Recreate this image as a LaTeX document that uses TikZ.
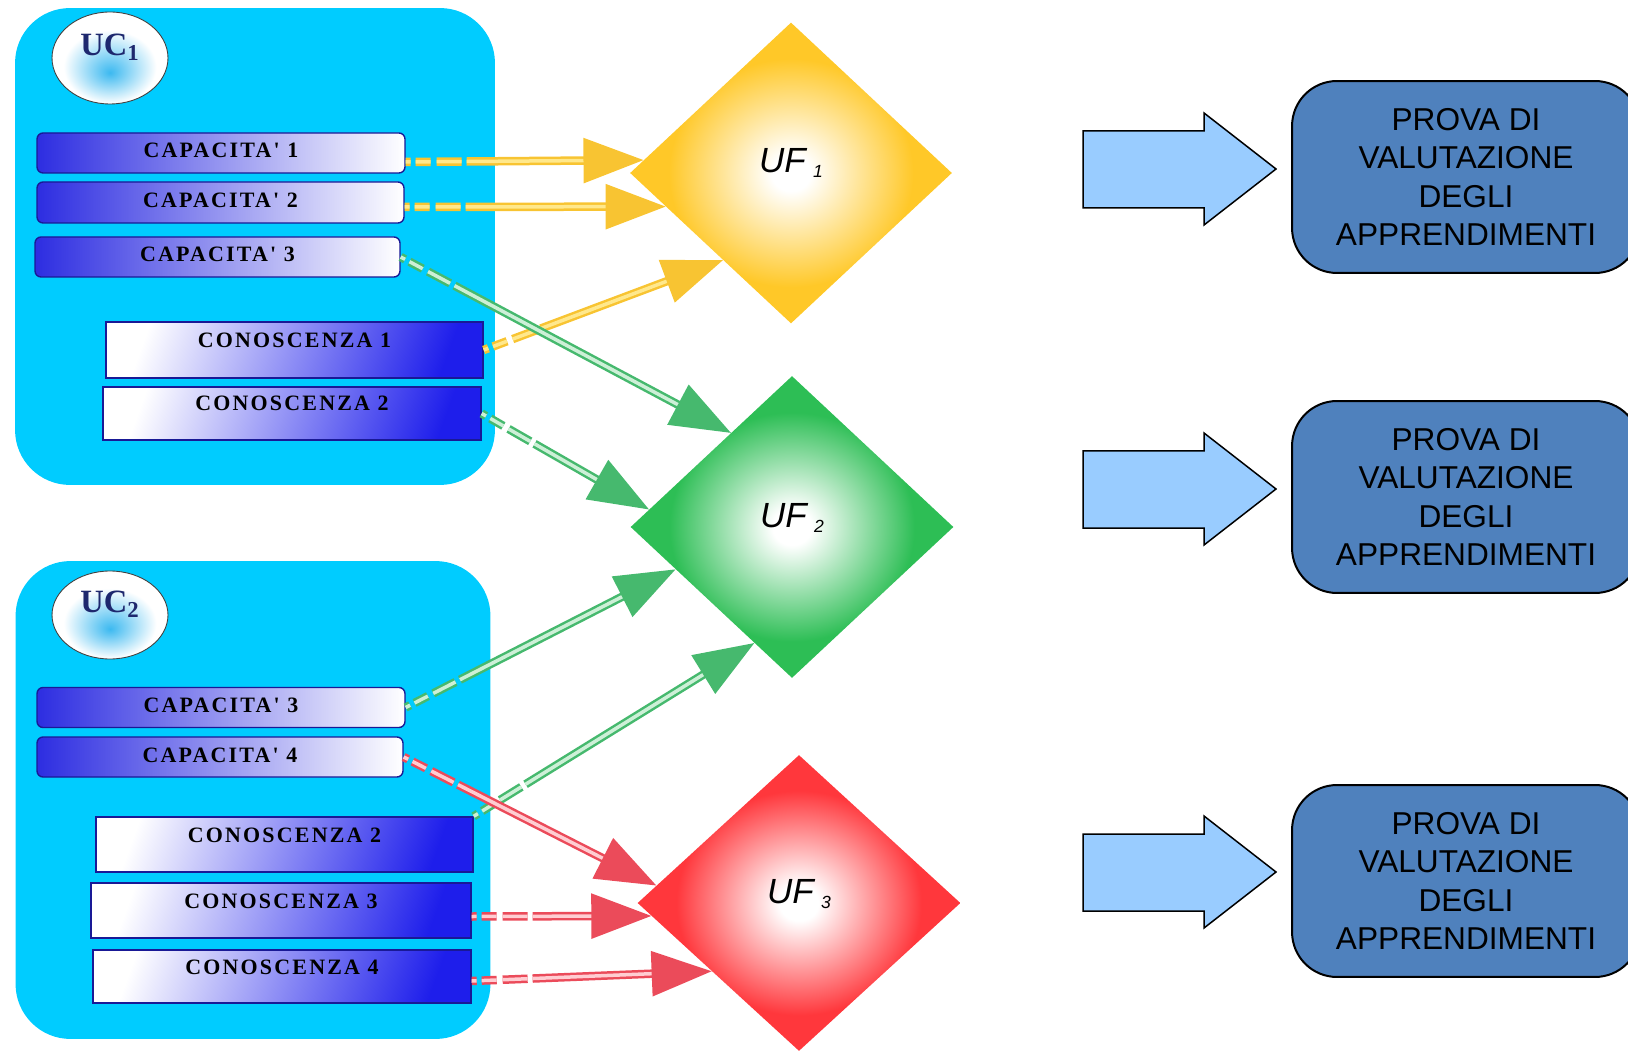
\documentclass[tikz,border=0pt]{standalone}
\usepackage{fontspec}
\setmainfont{Liberation Serif}
\setsansfont{Liberation Sans}
\newfontfamily\boxfont[LetterSpace=10]{Liberation Serif}
\usetikzlibrary{shapes.geometric,arrows.meta}

\definecolor{ucblue}{RGB}{0,204,255}
\definecolor{uccore}{RGB}{60,185,240}
\definecolor{ucnavy}{RGB}{30,40,110}
\definecolor{capblue}{RGB}{45,45,225}
\definecolor{capedge}{RGB}{25,25,150}
\definecolor{conblue}{RGB}{30,30,235}
\definecolor{ufyellow}{RGB}{255,200,40}
\definecolor{ufgreen}{RGB}{45,190,85}
\definecolor{ufred}{RGB}{255,55,60}
\definecolor{yline}{RGB}{248,196,50}
\definecolor{yfill}{RGB}{255,232,140}
\definecolor{gline}{RGB}{70,185,110}
\definecolor{gfill}{RGB}{205,240,215}
\definecolor{rline}{RGB}{235,75,90}
\definecolor{rfill}{RGB}{255,205,210}
\definecolor{pvblue}{RGB}{79,129,189}
\definecolor{arrowblue}{RGB}{153,204,255}

\pgfdeclareradialshading{ucshade}{\pgfpoint{0bp}{-8bp}}{color(0bp)=(uccore); color(20bp)=(white); color(50bp)=(white)}
\pgfdeclareradialshading{ufyshade}{\pgfpoint{0bp}{0bp}}{color(0bp)=(white); color(3bp)=(white); color(19bp)=(ufyellow); color(50bp)=(ufyellow)}
\pgfdeclareradialshading{ufgshade}{\pgfpoint{0bp}{0bp}}{color(0bp)=(white); color(3bp)=(white); color(19bp)=(ufgreen); color(50bp)=(ufgreen)}
\pgfdeclareradialshading{ufrshade}{\pgfpoint{0bp}{0bp}}{color(0bp)=(white); color(3bp)=(white); color(19bp)=(ufred); color(50bp)=(ufred)}

\begin{document}
\begin{tikzpicture}[x=0.02cm, y=-0.02cm,
    ucbox/.style={fill=ucblue, rounded corners=1.1cm, inner sep=0pt},
    ucname/.style={ellipse, draw=black!75, line width=0.5pt, shading=ucshade, minimum width=2.32cm, inner sep=0pt, text height=0.42cm, text depth=0.52cm, text=ucnavy, font=\fontsize{18.5}{18}\selectfont\bfseries},
    capbox/.style={draw=capedge, line width=0.8pt, left color=capblue, right color=white, rounded corners=0.12cm, inner sep=0pt, minimum width=7.34cm, text height=0.5cm, text depth=0.3cm, font=\boxfont\fontsize{12.5}{13}\selectfont\bfseries},
    conbox/.style={draw=capedge, line width=0.8pt, top color=white, bottom color=conblue, shading angle=70, inner sep=0pt, minimum width=7.56cm, text height=0.48cm, text depth=0.58cm, font=\boxfont\fontsize{12.5}{13}\selectfont\bfseries},
    ufnode/.style={diamond, minimum width=6.44cm, minimum height=6.02cm, inner sep=0pt, text height=0.5cm, text depth=0.5cm, font=\sffamily\itshape\fontsize{19.9}{20}\selectfont},
    link/.style={line width=0.05cm, double distance=0.07cm, dash pattern=on 0.1cm off 0.1cm on 0.3cm off 0.12cm on 0.5cm off 0.1cm on 30cm},
    ylink/.style={link, draw=yline, double=yfill, -{Triangle[length=1.2cm, width=0.9cm, color=yline]}},
    glink/.style={link, draw=gline, double=gfill, -{Triangle[length=1.2cm, width=0.9cm, color=gline]}},
    rlink/.style={link, draw=rline, double=rfill, -{Triangle[length=1.2cm, width=0.9cm, color=rline]}},
    barrow/.style={fill=arrowblue, draw=black, line width=0.03cm, line join=miter},
    pvbox/.style={fill=pvblue, draw=black, line width=0.04cm, rounded corners=0.9cm, minimum width=6.96cm, minimum height=3.84cm, align=center, font=\sffamily\fontsize{18}{21.9}\selectfont}]

    \useasboundingbox (0,0) rectangle (1628,1053);

    % Nodes
    \node[ucbox, minimum width=9.6cm, minimum height=9.54cm] (uc1) at (255,246.5) {};
    \node[ucbox, minimum width=9.5cm, minimum height=9.56cm] (uc2) at (253,800) {};
    \node[ucname, minimum height=1.84cm] (n1) at (110,58) {UC\textsubscript{1}};
    \node[ucname, minimum height=1.76cm] (n2) at (110,615) {UC\textsubscript{2}};

    \node[capbox, minimum width=7.36cm, minimum height=0.8cm] (c11) at (221,153) {CAPACITA' 1};
    \node[capbox, minimum height=0.82cm] (c12) at (220.5,202.5) {CAPACITA' 2};
    \node[capbox, minimum width=7.3cm, minimum height=0.8cm] (c13) at (217.5,257) {CAPACITA' 3};
    \node[conbox, minimum width=7.54cm, minimum height=1.12cm] (k11) at (294.5,350) {CONOSCENZA 1};
    \node[conbox, minimum height=1.06cm] (k12) at (292,413.5) {CONOSCENZA 2};

    \node[capbox, minimum width=7.36cm, minimum height=0.78cm] (c23) at (221,707.5) {CAPACITA' 3};
    \node[capbox, minimum width=7.32cm, minimum height=0.8cm] (c24) at (220,757) {CAPACITA' 4};
    \node[conbox, minimum width=7.54cm, minimum height=1.1cm] (k22) at (284.5,844.5) {CONOSCENZA 2};
    \node[conbox, minimum width=7.6cm, minimum height=1.1cm] (k23) at (281,910.5) {CONOSCENZA 3};
    \node[conbox, minimum height=1.06cm] (k24) at (282,976.5) {CONOSCENZA 4};

    \node[ufnode, shading=ufyshade] (uf1) at (791,173) {UF\hspace{0.15cm}\raisebox{-0.1cm}{\fontsize{10}{10}\selectfont 1}};
    \node[ufnode, shading=ufgshade, minimum width=6.46cm, minimum height=6.04cm] (uf2) at (792,527) {UF\hspace{0.15cm}\raisebox{-0.1cm}{\fontsize{10}{10}\selectfont 2}};
    \node[ufnode, shading=ufrshade, minimum width=6.46cm, minimum height=5.92cm] (uf3) at (799,903) {UF\hspace{0.15cm}\raisebox{-0.1cm}{\fontsize{10}{10}\selectfont 3}};

    \node[pvbox] (pv1) at (1466,177) {PROVA DI\\VALUTAZIONE\\DEGLI\\APPRENDIMENTI};
    \node[pvbox] (pv2) at (1466,497) {PROVA DI\\VALUTAZIONE\\DEGLI\\APPRENDIMENTI};
    \node[pvbox] (pv3) at (1466,881) {PROVA DI\\VALUTAZIONE\\DEGLI\\APPRENDIMENTI};

    % Block arrows
    \draw[barrow] (1083,131) -- (1204,131) -- (1204,113) -- (1276,169) -- (1204,225) -- (1204,208) -- (1083,208) -- cycle;
    \draw[barrow] (1083,451) -- (1204,451) -- (1204,433) -- (1276,489) -- (1204,545) -- (1204,528) -- (1083,528) -- cycle;
    \draw[barrow] (1083,834) -- (1204,834) -- (1204,816) -- (1276,872) -- (1204,928) -- (1204,911) -- (1083,911) -- cycle;

    % Edges
    \draw[ylink] ([yshift=-0.18cm]c11.east) -- (uf1.175.8);
    \draw[ylink] ([yshift=-0.09cm]c12.east) -- (uf1.195.3);
    \draw[ylink] (k11.east) -- (uf1.232.5);
    \draw[glink] (c13.east) -- (uf2.123.8);
    \draw[glink] (k12.east) -- (uf2.173.1);
    \draw[glink] (c23.east) -- (uf2.200.2);
    \draw[glink] (k22.north east) -- (uf2.252);
    \draw[rlink] (c24.east) -- (uf3.173.6);
    \draw[rlink] ([yshift=-0.12cm]k23.east) -- (uf3.185);
    \draw[rlink] ([yshift=-0.09cm]k24.east) -- (uf3.218.2);

\end{tikzpicture}
\end{document}
